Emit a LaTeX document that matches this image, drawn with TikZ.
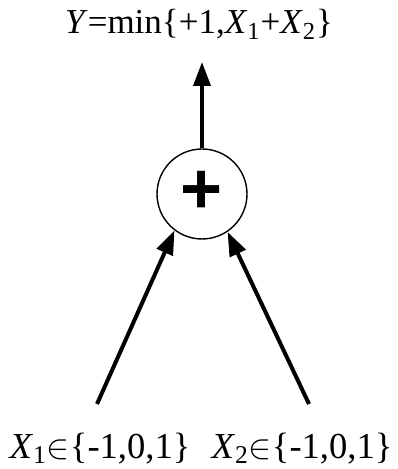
\documentclass[tikz,border=0pt]{standalone}
\usepackage{fontspec}
\setmainfont{Liberation Serif}
\newfontfamily\plusfont{Liberation Sans}
\usetikzlibrary{arrows.meta, positioning}
\tikzset{
    >={Triangle[length=12pt, width=8.5pt]},
    % Shapes
    sumnode/.style={circle, draw, line width=0.7pt, minimum size=45pt,
                    inner sep=0pt, font=\plusfont\bfseries\fontsize{36}{36}\selectfont},
    lbl/.style={inner sep=0pt, anchor=base, font=\fontsize{17.5}{21}\selectfont},
    inlbl/.style={lbl, font=\fontsize{18.3}{22}\selectfont},
    % Flow
    flow/.style={->, line width=2pt}
}

\begin{document}
\begin{tikzpicture}[x=0.5pt, y=-0.5pt]
\useasboundingbox (0,0) rectangle (397,469);

\node[sumnode] (sum) at (202,194) {\raisebox{2pt}{+}};
\node[lbl] (out) at (199,34) {\textit{Y}=min\{+1,\textit{X}\textsubscript{1}+\textit{X}\textsubscript{2}\}};
\node[inlbl] (in1) at (100,458) {\textit{X}\textsubscript{1}$\in$\{-1,0,1\}};
\node[inlbl] (in2) at (302,458) {\textit{X}\textsubscript{2}$\in$\{-1,0,1\}};

\coordinate (outtip) at (202,62);
\coordinate (in1start) at (97,404);
\coordinate (in2start) at (309,404);

\draw[flow] (sum) -- (outtip);
\draw[flow] (in1start) -- (sum.233);
\draw[flow] (in2start) -- (sum.304);

\end{tikzpicture}
\end{document}
